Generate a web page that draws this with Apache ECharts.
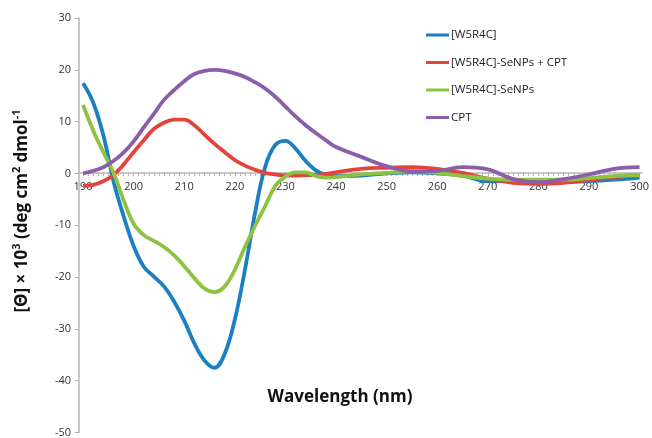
<!DOCTYPE html>
<html>
<head>
<meta charset="utf-8">
<script src="https://cdn.jsdelivr.net/npm/echarts@6/dist/echarts.min.js"></script>
<style>
  html, body { margin: 0; padding: 0; background: #fff; }
  #chart { width: 652px; height: 438px; }
</style>
</head>
<body>
<div id="chart"></div>
<script>
const wavelength = [190, 192, 194, 196, 198, 200, 202, 204, 206, 208, 210, 212, 214, 216, 218, 220,
  222, 224, 226, 228, 230, 232, 234, 236, 238, 240, 245, 250, 255, 260, 265, 270, 275, 280, 285, 290, 295, 300];

const w5r4c = [17.4, 13.7, 7.4, -1.4, -8.2, -14.0, -18.0, -19.9, -21.8, -24.7, -28.4, -32.8, -36.1, -37.5, -34.8, -28.2,
  -18.6, -7.6, 1.3, 5.5, 6.3, 4.8, 2.4, 0.6, -0.3, -0.5, -0.4, 0.0, 0.2, 0.0, -0.4, -1.5, -1.5, -1.6, -1.6, -1.5, -1.2, -0.8];

const w5r4cSeCpt = [-2.4, -2.2, -1.5, -0.3, 1.7, 4.1, 6.4, 8.6, 9.8, 10.4, 10.4, 9.3, 7.5, 5.7, 4.1, 2.6,
  1.5, 0.7, 0.1, -0.2, -0.4, -0.4, -0.3, -0.3, -0.1, 0.2, 0.9, 1.1, 1.2, 0.9, 0.1, -1.0, -1.8, -2.0, -1.8, -1.3, -0.7, -0.3];

const w5r4cSe = [13.2, 8.3, 4.1, 0.2, -5.1, -9.7, -11.9, -13.0, -14.2, -15.8, -17.9, -20.2, -22.2, -22.9, -21.8, -18.6,
  -14.2, -10.1, -6.3, -2.4, -0.6, 0.2, 0.2, -0.5, -0.8, -0.7, -0.2, 0.1, 0.4, 0.1, -0.5, -1.0, -1.2, -1.2, -1.2, -0.9, -0.5, -0.3];

const cpt = [0.0, 0.5, 1.2, 2.4, 4.0, 6.2, 8.9, 11.5, 14.2, 16.1, 17.8, 19.2, 19.8, 20.0, 19.8, 19.3,
  18.6, 17.6, 16.4, 14.8, 12.9, 11.0, 9.3, 7.8, 6.4, 5.1, 3.2, 1.4, 0.4, 0.5, 1.2, 0.8, -1.1, -1.7, -1.1, -0.2, 0.9, 1.2];

const xLabels = [190, 200, 210, 220, 230, 240, 250, 260, 270, 280, 290, 300];
const xTicks = [];
for (let v = 190; v <= 300; v++) xTicks.push(v);

const names = ["[W5R4C]", "[W5R4C]-SeNPs + CPT", "[W5R4C]-SeNPs", "CPT"];
const colors = ["#1b7fc3", "#e2443c", "#8cc340", "#8a5ea8"];
const values = [w5r4c, w5r4cSeCpt, w5r4cSe, cpt];

const font = "'Open Sans', 'Noto Sans', sans-serif";
const yMin = -50, yMax = 30;
const gridTop = 18, gridBottom = 5;
// move the x axis (line, ticks, labels) up to y = 0
const zeroOffset = -(438 - gridTop - gridBottom) * (0 - yMin) / (yMax - yMin);

const chart = echarts.init(document.getElementById("chart"), null, { renderer: "canvas" });
chart.setOption({
  animation: false,
  backgroundColor: "#fff",
  color: colors,
  grid: { left: 79, right: 3, top: gridTop, bottom: gridBottom, containLabel: false },
  legend: {
    orient: "vertical",
    left: 421,
    top: 23,
    icon: "rect",
    itemWidth: 23,
    itemHeight: 3,
    itemGap: 13.5,
    textStyle: { fontFamily: font, fontSize: 11.5, color: "#222", lineHeight: 14, padding: [0, 0, 0, -3] },
    data: names
  },
  xAxis: {
    type: "value",
    min: 189.2,
    max: 300.5,
    offset: zeroOffset,
    axisLine: { onZero: false, lineStyle: { color: "#b5b5b5", width: 1.5 } },
    axisTick: { show: true, customValues: xTicks, inside: false, length: 3, lineStyle: { color: "#b5b5b5" } },
    axisLabel: { customValues: xLabels, margin: 8, fontFamily: font, fontSize: 11, color: "#333" },
    splitLine: { show: false }
  },
  yAxis: {
    type: "value",
    min: yMin,
    max: yMax,
    interval: 10,
    axisLine: { show: true, lineStyle: { color: "#b5b5b5", width: 1.5 } },
    axisTick: { show: true, length: 4, lineStyle: { color: "#b5b5b5" } },
    axisLabel: { margin: 8, fontFamily: font, fontSize: 11, color: "#333" },
    splitLine: { show: false }
  },
  graphic: [
    {
      type: "text",
      x: 340,
      y: 397,
      style: {
        text: "Wavelength (nm)",
        font: "bold 17px " + font,
        fill: "#111",
        align: "center",
        verticalAlign: "middle"
      }
    },
    {
      type: "text",
      x: 22,
      y: 211,
      rotation: Math.PI / 2,
      style: {
        text: "{b|[Θ] × 10}{s|3}{b| (deg cm}{s|2}{b| dmol}{s|-1}",
        align: "center",
        verticalAlign: "middle",
        rich: {
          b: { font: "bold 17px " + font, fill: "#111", lineHeight: 22 },
          s: { font: "bold 11px " + font, fill: "#111", verticalAlign: "top", lineHeight: 22 }
        }
      }
    }
  ],
  series: values.map((data, i) => ({
    name: names[i],
    type: "line",
    data: wavelength.map((w, j) => [w, data[j]]),
    smooth: 0.4,
    showSymbol: false,
    symbol: "none",
    lineStyle: { width: 3.8, color: colors[i] },
    z: 2 + i
  }))
});
</script>
</body>
</html>
